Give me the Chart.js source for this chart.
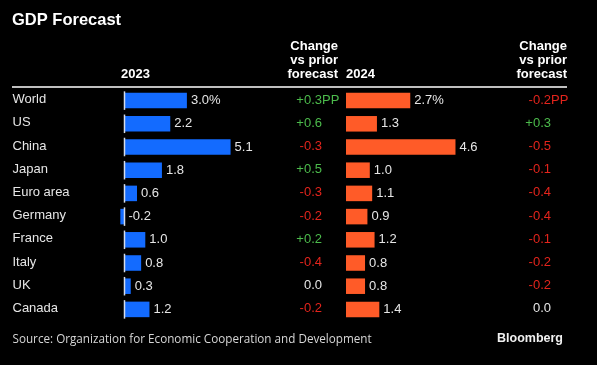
<!DOCTYPE html>
<html>
<head>
<meta charset="utf-8">
<script src="https://cdn.jsdelivr.net/npm/chart.js@4"></script>
<style>
  html, body { margin: 0; padding: 0; background: #000; }
  canvas { display: block; }
</style>
</head>
<body>
<canvas id="chart" width="597" height="365"></canvas>
<script>
// Dati
const countries = ['World', 'US', 'China', 'Japan', 'Euro area', 'Germany', 'France', 'Italy', 'UK', 'Canada'];
const gdp2023 = [3.0, 2.2, 5.1, 1.8, 0.6, -0.2, 1.0, 0.8, 0.3, 1.2];
const change2023 = [0.3, 0.6, -0.3, 0.5, -0.3, -0.2, 0.2, -0.4, 0.0, -0.2];
const gdp2024 = [2.7, 1.3, 4.6, 1.0, 1.1, 0.9, 1.2, 0.8, 0.8, 1.4];
const change2024 = [-0.2, 0.3, -0.5, -0.1, -0.4, -0.4, -0.1, -0.2, -0.2, 0.0];

const W = 597;
const BLUE = '#136bff';
const ORANGE = '#ff5b28';
const GREEN = '#4cbb4c';
const RED = '#e3241c';
const TEXT = '#e6e6e6';
const FONT = '"Liberation Sans", Arial, sans-serif';

// posizione dello zero e px per unità di ciascun pannello
const zero1 = 124.5, ppu1 = 20.8;
const zero2 = 346, ppu2 = 23.8;

const fmtVal = (v, i) => v.toFixed(1) + (i === 0 ? '%' : '');
const fmtChg = v => (v > 0 ? '+' : '') + v.toFixed(1);
const chgColor = v => v > 0 ? GREEN : (v < 0 ? RED : TEXT);

const textPlugin = {
    id: 'textPlugin',
    beforeDraw(chart) {
        const ctx = chart.ctx;
        ctx.save();
        ctx.fillStyle = '#000';
        ctx.fillRect(0, 0, chart.width, chart.height);
        ctx.restore();
    },
    afterDatasetsDraw(chart) {
        const ctx = chart.ctx;
        const yScale = chart.scales.y;
        const x1 = chart.scales.x1;
        const m1 = chart.getDatasetMeta(0);
        const m2 = chart.getDatasetMeta(1);
        ctx.save();

        // titolo
        ctx.fillStyle = '#fff';
        ctx.font = 'bold 16.5px ' + FONT;
        ctx.textAlign = 'left';
        ctx.textBaseline = 'alphabetic';
        ctx.fillText('GDP Forecast', 12, 25);

        // intestazioni
        ctx.font = 'bold 13px ' + FONT;
        ctx.fillText('2023', 121, 78);
        ctx.fillText('2024', 346, 78);
        ctx.textAlign = 'right';
        ['Change', 'vs prior', 'forecast'].forEach((t, k) => {
            ctx.fillText(t, 338, 50 + k * 14);
            ctx.fillText(t, 567, 50 + k * 14);
        });

        // linea sotto le intestazioni
        ctx.strokeStyle = '#fff';
        ctx.lineWidth = 1.5;
        ctx.beginPath();
        ctx.moveTo(12, 87);
        ctx.lineTo(567, 87);
        ctx.stroke();

        ctx.textBaseline = 'middle';
        countries.forEach((c, i) => {
            const y = yScale.getPixelForValue(i);

            // asse dello zero 2023
            const bar = m1.data[i];
            const h = bar.height;
            ctx.strokeStyle = '#d5dcea';
            ctx.lineWidth = 1.5;
            ctx.beginPath();
            ctx.moveTo(x1.getPixelForValue(0), y - h / 2 - 1.5);
            ctx.lineTo(x1.getPixelForValue(0), y + h / 2 + 1.5);
            ctx.stroke();

            // etichette paesi
            ctx.font = '13px ' + FONT;
            ctx.fillStyle = TEXT;
            ctx.textAlign = 'left';
            ctx.fillText(c, 12.5, y - 1);

            // valori
            const end1 = Math.max(m1.data[i].x, m1.data[i].base);
            ctx.fillText(fmtVal(gdp2023[i], i), end1 + 4, y);
            const end2 = Math.max(m2.data[i].x, m2.data[i].base);
            ctx.fillText(fmtVal(gdp2024[i], i), end2 + 4, y);

            // variazioni
            [[change2023[i], 322], [change2024[i], 551]].forEach(([v, xr]) => {
                ctx.fillStyle = chgColor(v);
                ctx.textAlign = 'right';
                ctx.fillText(fmtChg(v), xr, y - 0.5);
                if (i === 0) {
                    ctx.textAlign = 'left';
                    ctx.fillText('PP', xr, y - 0.5);
                }
            });
        });

        // fonte e logo
        ctx.textBaseline = 'alphabetic';
        ctx.textAlign = 'left';
        ctx.fillStyle = '#d6d6d6';
        ctx.font = '11.7px "Open Sans", sans-serif';
        ctx.fillText('Source: Organization for Economic Cooperation and Development', 12.5, 342.5);
        ctx.textAlign = 'right';
        ctx.fillStyle = '#f0f0f0';
        ctx.font = 'bold 12.5px ' + FONT;
        ctx.fillText('Bloomberg', 563, 342);
        ctx.restore();
    }
};

const data = {
    labels: countries,
    datasets: [{
        label: '2023',
        data: gdp2023,
        xAxisID: 'x1',
        backgroundColor: BLUE,
        borderWidth: 0
    }, {
        label: '2024',
        data: gdp2024,
        xAxisID: 'x2',
        backgroundColor: ORANGE,
        borderWidth: 0
    }]
};

const config = {
    type: 'bar',
    data,
    options: {
        indexAxis: 'y',
        responsive: false,
        animation: false,
        devicePixelRatio: 1,
        grouped: false,
        barPercentage: 0.67,
        categoryPercentage: 1,
        layout: { padding: { top: 89, bottom: 44, left: 0, right: 0 } },
        plugins: {
            legend: { display: false },
            tooltip: { enabled: false }
        },
        scales: {
            y: { display: false },
            x1: { type: 'linear', display: false, min: -zero1 / ppu1, max: (W - zero1) / ppu1 },
            x2: { type: 'linear', display: false, min: -zero2 / ppu2, max: (W - zero2) / ppu2 }
        }
    },
    plugins: [textPlugin]
};

const myChart = new Chart(document.getElementById('chart'), config);
</script>
</body>
</html>
